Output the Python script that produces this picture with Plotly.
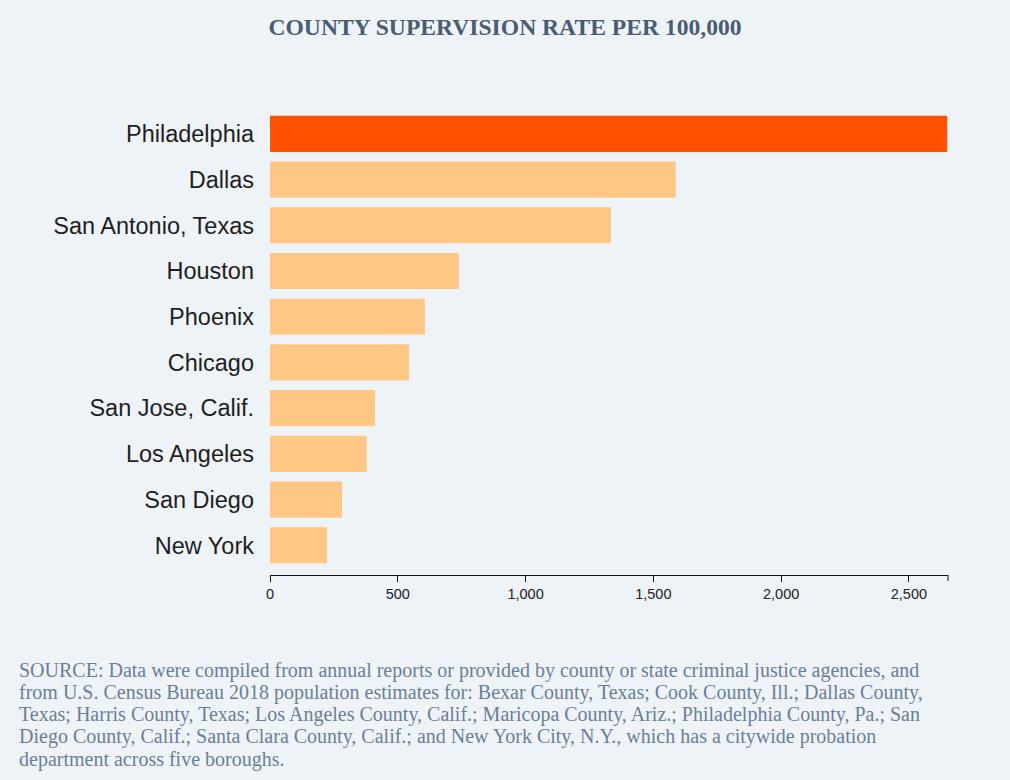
import plotly.graph_objects as go

# ---- data ----
counties = ["Philadelphia", "Dallas", "San Antonio, Texas", "Houston", "Phoenix",
            "Chicago", "San Jose, Calif.", "Los Angeles", "San Diego", "New York"]
rates = [2650, 1588, 1334, 739, 606, 544, 411, 379, 282, 223]
highlight = "Philadelphia"
tick_values = [0, 500, 1000, 1500, 2000, 2500]
tick_labels = ["0", "500", "1,000", "1,500", "2,000", "2,500"]
x_max = 2653

title_text = "COUNTY SUPERVISION RATE PER 100,000"
source_lines = [
    "SOURCE: Data were compiled from annual reports or provided by county or state criminal justice agencies, and",
    "from U.S. Census Bureau 2018 population estimates for: Bexar County, Texas; Cook County, Ill.; Dallas County,",
    "Texas; Harris County, Texas; Los Angeles County, Calif.; Maricopa County, Ariz.; Philadelphia County, Pa.; San",
    "Diego County, Calif.; Santa Clara County, Calif.; and New York City, N.Y., which has a citywide probation",
    "department across five boroughs.",
]

# ---- styles ----
BG = "#eef3f8"
HI = "#ff5100"
LO = "#fec884"
W, H = 1010, 780
ML, MR, MT, MB = 270, 62, 111, 205
plot_w = W - ML - MR
plot_h = H - MT - MB

colors = [HI if c == highlight else LO for c in counties]

fig = go.Figure(go.Bar(
    x=rates, y=counties, orientation="h",
    marker=dict(color=colors, line=dict(width=0)),
    hoverinfo="x+y",
))

fig.update_layout(
    width=W, height=H,
    margin=dict(l=ML, r=MR, t=MT, b=MB, pad=0),
    paper_bgcolor=BG, plot_bgcolor=BG,
    bargap=0.21,
    showlegend=False,
    title=dict(text=f"<b>{title_text}</b>", x=0.5, xref="container", xanchor="center",
               y=1 - 27 / H, yref="container", yanchor="middle",
               font=dict(family="Liberation Serif, Times New Roman, serif", size=23.6, color="#4a5b73")),
)

fig.update_xaxes(
    range=[0, x_max], showgrid=False, zeroline=False,
    showline=True, linecolor="#111", linewidth=1,
    ticks="outside", ticklen=6, tickcolor="#111", tickwidth=1,
    tickvals=tick_values, ticktext=tick_labels,
    tickfont=dict(family="Liberation Sans, Arial, sans-serif", size=14.5, color="#222"),
    fixedrange=True,
)
fig.update_yaxes(
    categoryorder="array", categoryarray=counties,
    range=[len(counties) - 0.35, -0.5],
    showgrid=False, zeroline=False, showline=False, ticks="",
    ticklabelstandoff=15,
    tickfont=dict(family="Liberation Sans, Arial, sans-serif", size=23.5, color="#1e1e1e"),
    fixedrange=True,
)

# outer tick at the end of the axis domain
fig.add_shape(type="line", xref="paper", yref="paper", x0=1, x1=1, y0=0, y1=-6 / plot_h,
              line=dict(color="#111", width=1))

# source note, one annotation per line
line_y = [670, 692.3, 714.6, 736.9, 759.2]
for txt, yy in zip(source_lines, line_y):
    fig.add_annotation(
        text=txt, xref="paper", yref="paper",
        x=(18 - ML) / plot_w, xanchor="left",
        y=(H - MB - yy) / plot_h, yanchor="middle",
        showarrow=False, align="left", borderpad=0,
        font=dict(family="Liberation Serif, Times New Roman, serif", size=20, color="#6b7e98"),
    )

fig.write_html("out.html", post_script="document.body.style.margin='0';",
               config={"displayModeBar": False})
